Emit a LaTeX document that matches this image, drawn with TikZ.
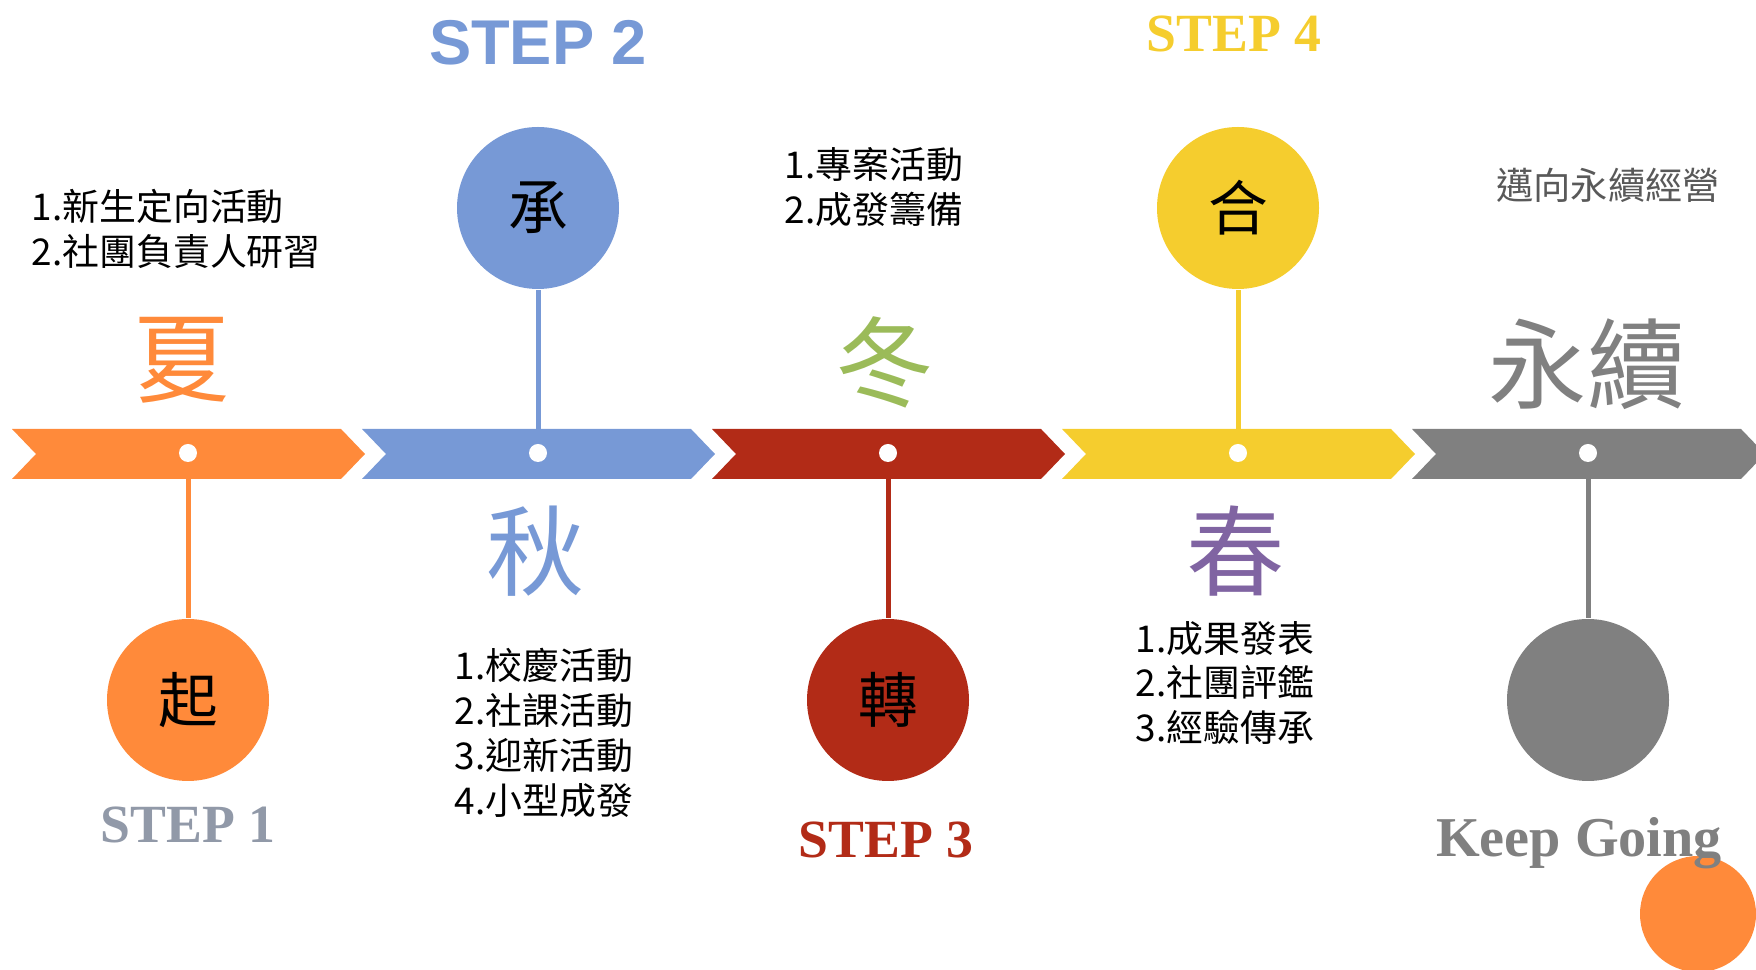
\documentclass[tikz,border=0pt]{standalone}
\usepackage{fontspec}
\setmainfont{Liberation Serif}
\newfontfamily\cjk{Noto Sans CJK TC}
\newfontfamily\stepsans{Liberation Sans}
\definecolor{summer}{HTML}{FF8A3A}
\definecolor{autumn}{HTML}{7799D6}
\definecolor{winter}{HTML}{B22B17}
\definecolor{spring}{HTML}{F5CD2E}
\definecolor{forever}{HTML}{808080}
\definecolor{wintergreen}{HTML}{9BBB59}
\definecolor{springpurple}{HTML}{8064A2}
\definecolor{stepgray}{HTML}{9199A8}
\definecolor{mottogray}{HTML}{595959}
\begin{document}
\begin{tikzpicture}[x=0.1mm, y=-0.1mm, inner sep=0pt]
      \tikzset{
	  bigdisc/.style={circle, minimum size=16.2mm, text=black, font=\cjk\fontsize{17}{17}\selectfont},
	  hole/.style={circle, fill=white, minimum size=1.8mm},
	  stem/.style={line width=0.5mm},
	  season/.style={font=\cjk\fontsize{28}{28}\selectfont},
	  plan/.style={align=left, anchor=west, font=\cjk\fontsize{10.5}{12.8}\selectfont},
	  serifstep/.style={anchor=base, font=\bfseries\fontsize{15.3}{15.3}\selectfont}
      }
      \useasboundingbox (0,0) rectangle (1756,970);

      \def\chevron{-- +(329,0) -- +(353,25) -- +(329,50) -- +(0,50) -- +(24,25) -- cycle}

      \fill[summer] (12,429) \chevron;
      \fill[autumn] (362,429) \chevron;
      \fill[winter] (712,429) \chevron;
      \fill[spring] (1062,429) \chevron;
      \fill[forever] (1412,429) \chevron;

      \node[hole] (d1) at (188,453) {};
      \node[hole] (d2) at (538,453) {};
      \node[hole] (d3) at (888,453) {};
      \node[hole] (d4) at (1238,453) {};
      \node[hole] (d5) at (1588,453) {};

      \node[bigdisc, fill=summer] (qi) at (188,700) {起};
      \node[bigdisc, fill=autumn] (cheng) at (538,208) {承};
      \node[bigdisc, fill=winter] (zhuan) at (888,700) {轉};
      \node[bigdisc, fill=spring] (he) at (1238,208) {合};
      \node[bigdisc, fill=forever] (go) at (1588,700) {};

      \draw[stem, summer] (d1) -- (qi);
      \draw[stem, autumn] (d2) -- (cheng);
      \draw[stem, winter] (d3) -- (zhuan);
      \draw[stem, spring] (d4) -- (he);
      \draw[stem, forever] (d5) -- (go);

      \node[season, text=summer] (xia) at (182,360) {夏};
      \node[season, text=autumn] (qiu) at (536,551) {秋};
      \node[season, text=wintergreen] (dong) at (885,362) {冬};
      \node[season, text=springpurple] (chun) at (1236,551) {春};
      \node[season, text=forever] (yongxu) at (1587,364) {永續};

      \node[plan] (summerplan) at (31,229) {1.新生定向活動\\2.社團負責人研習};
      \node[plan] (autumnplan) at (454,733) {1.校慶活動\\2.社課活動\\3.迎新活動\\4.小型成發};
      \node[plan] (winterplan) at (784,187) {1.專案活動\\2.成發籌備};
      \node[plan] (springplan) at (1135,683) {1.成果發表\\2.社團評鑑\\3.經驗傳承};
      \node[font=\cjk\fontsize{10.6}{10.6}\selectfont, text=mottogray] (motto) at (1608,185) {邁向永續經營};

      \fill[summer] (1698,914) circle (5.8mm);

      \node[serifstep, text=stepgray] (step1) at (188,843) {STEP 1};
      \node[anchor=base, font=\stepsans\bfseries\fontsize{18}{18}\selectfont, text=autumn] (step2) at (538,65) {STEP 2};
      \node[serifstep, text=winter] (step3) at (886,858) {STEP 3};
      \node[serifstep, text=spring] (step4) at (1234,52) {STEP 4};
      \node[serifstep, font=\bfseries\fontsize{16}{16}\selectfont, text=forever] (keepgoing) at (1579,857) {Keep Going};
    \end{tikzpicture}
\end{document}
